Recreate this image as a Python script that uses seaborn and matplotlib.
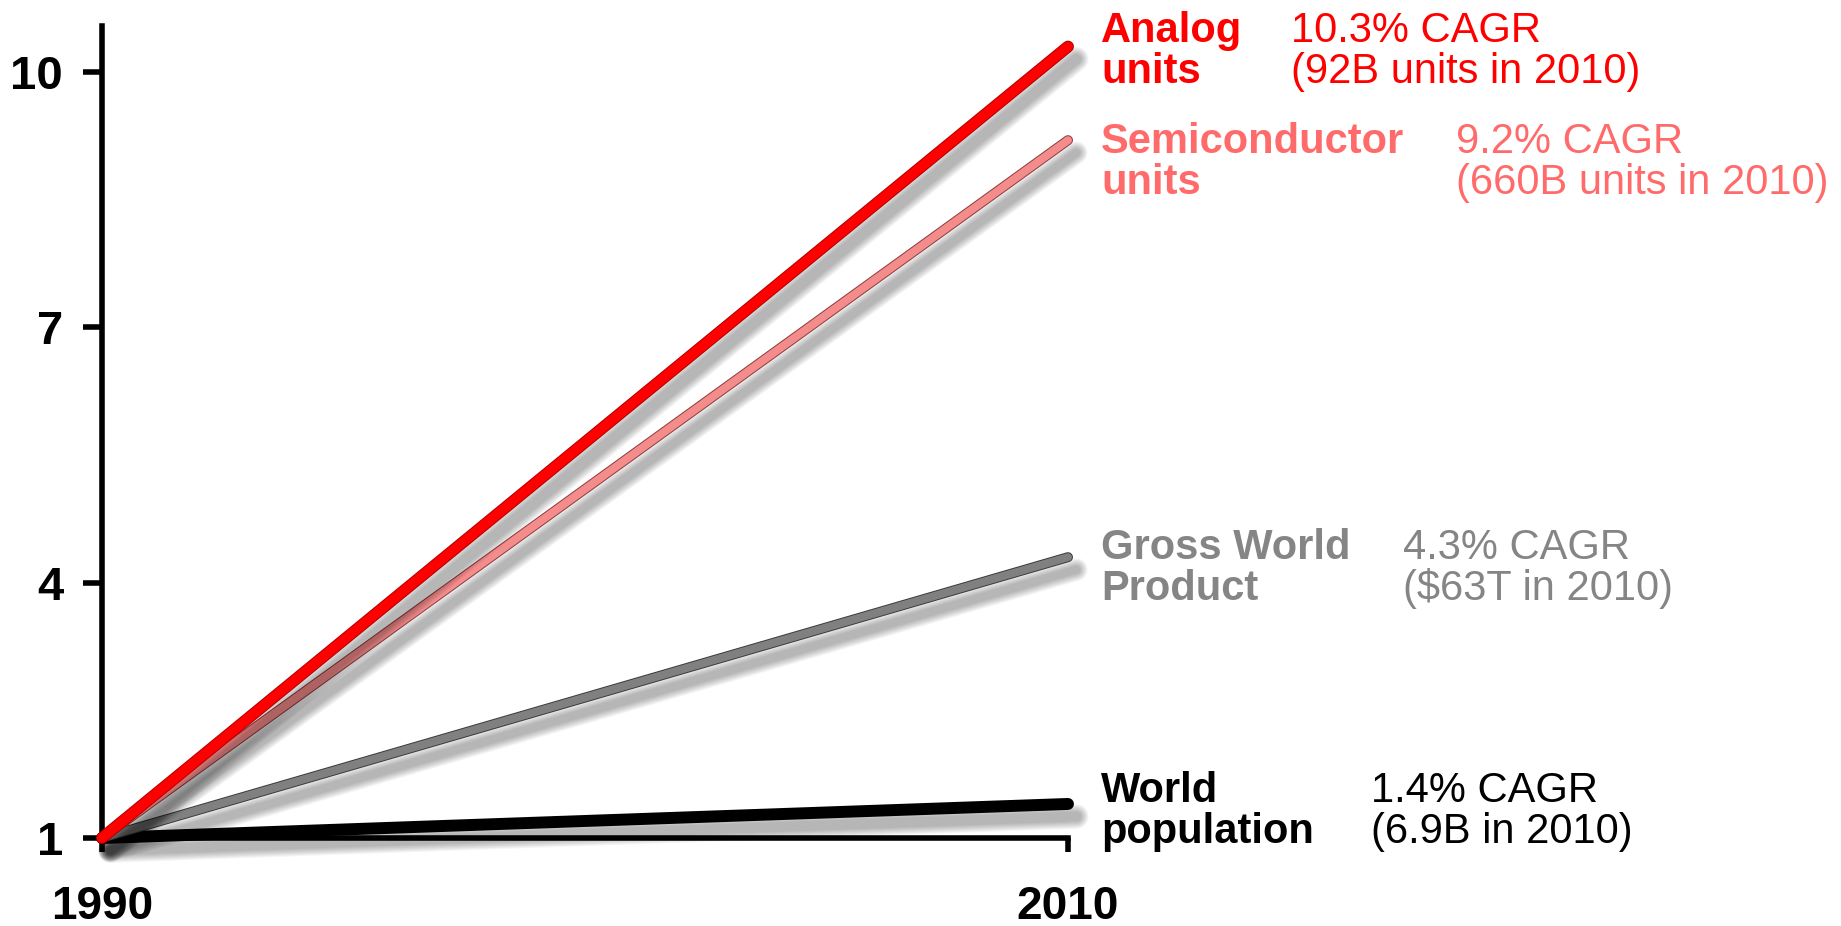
import matplotlib
matplotlib.use("Agg")
import matplotlib.pyplot as plt
import matplotlib.patheffects as pe
import pandas as pd
import seaborn as sns

# ---- data ----
years = [1990, 2010]
series_names = ["Analog units", "Semiconductor units", "Gross World Product", "World population"]
analog_values = [1.0, 10.3]
semiconductor_values = [1.0, 9.2]
gwp_values = [1.0, 4.3]
population_values = [1.0, 1.4]
name_lines = [("Analog", "units"), ("Semiconductor", "units"),
              ("Gross World", "Product"), ("World", "population")]
cagr_lines = [("10.3% CAGR", "(92B units in 2010)"),
              ("9.2% CAGR", "(660B units in 2010)"),
              ("4.3% CAGR", "(\\$63T in 2010)"),
              ("1.4% CAGR", "(6.9B in 2010)")]
y_ticks = [1, 4, 7, 10]
x_ticks = [1990, 2010]

# ---- style ----
line_colors = ["#FF0000", "#F58C8C", "#808080", "#000000"]
edge_colors = ["#B00000", "#8A3A3A", "#3A3A3A", "#000000"]
text_colors = ["#FF0000", "#FF6B6B", "#858585", "#000000"]
line_widths = [7.2, 5.8, 5.8, 7.2]
zorders = [6, 5, 4, 3]

sns.set_theme(style="white")
plt.rcParams["font.family"] = ["Liberation Sans", "DejaVu Sans"]

df = pd.concat([
    pd.DataFrame({"year": years, "value": vals, "series": name})
    for name, vals in zip(series_names,
                          [analog_values, semiconductor_values, gwp_values, population_values])
])

W, H = 1841, 926
fig = plt.figure(figsize=(W / 100, H / 100), dpi=100)
ax_left, ax_right, ax_top, ax_bottom = 102, 1068, 26, 838
ax = fig.add_axes([ax_left / W, 1 - ax_bottom / H, (ax_right - ax_left) / W, (ax_bottom - ax_top) / H])

sns.lineplot(data=df, x="year", y="value", hue="series", hue_order=series_names,
             palette=dict(zip(series_names, line_colors)), legend=False, ax=ax,
             solid_capstyle="round")

for line, lw, ec, z in zip(ax.lines, line_widths, edge_colors, zorders):
    line.set_linewidth(lw)
    line.set_clip_on(False)
    line.set_zorder(z)
    effects = []
    for i in range(8):
        effects.append(pe.SimpleLineShadow(offset=(6, -9), shadow_color="black",
                                           alpha=0.04, rho=1.0, linewidth=lw + 1.5 * i,
                                           capstyle="round"))
    effects.append(pe.Stroke(linewidth=lw + 1.4, foreground=ec, capstyle="round"))
    effects.append(pe.Normal())
    line.set_path_effects(effects)

ax.set_xlim(1990, 2010)
ax.set_ylim(1, 1 + (ax_bottom - ax_top) / 85.1)
ax.set_xticks(x_ticks)
ax.set_yticks(y_ticks)
ax.set_xticklabels([str(x) for x in x_ticks])
ax.set_yticklabels([str(y) for y in y_ticks])
ax.set_xlabel("")
ax.set_ylabel("")
for s in ["top", "right"]:
    ax.spines[s].set_visible(False)
for s in ["left", "bottom"]:
    ax.spines[s].set_linewidth(4)
    ax.spines[s].set_color("black")
    ax.spines[s].set_zorder(2)
ax.tick_params(axis="y", direction="out", length=14, width=4, pad=14,
               labelsize=34, left=True, colors="black")
ax.tick_params(axis="x", direction="out", length=10, width=4, pad=24,
               labelsize=33, bottom=True, colors="black")
for lab in ax.get_xticklabels() + ax.get_yticklabels():
    lab.set_fontweight("bold")
ax.patch.set_alpha(0)

# ---- end labels ----
name_x = 1101
cagr_x = [1291, 1456, 1403, 1371]
baselines = [(42, 83), (153, 194), (559, 600), (802, 843)]
for (n1, n2), (c1, c2), cx, (b1, b2), col in zip(name_lines, cagr_lines, cagr_x, baselines, text_colors):
    for txt, b in ((n1, b1), (n2, b2)):
        fig.text(name_x / W, 1 - b / H, txt, ha="left", va="baseline",
                 fontsize=30, fontweight="bold", color=col)
    for txt, b in ((c1, b1), (c2, b2)):
        fig.text(cx / W, 1 - b / H, txt, ha="left", va="baseline",
                 fontsize=30, color=col)

fig.savefig("out.png", dpi=100, facecolor="white")
